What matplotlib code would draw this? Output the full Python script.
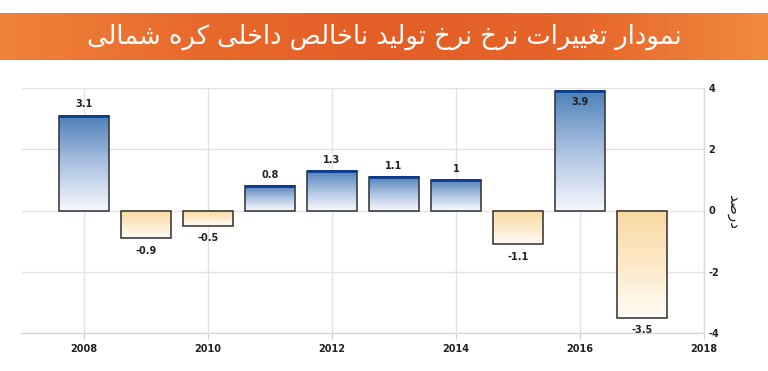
import numpy as np
import matplotlib
matplotlib.use("Agg")
import matplotlib.pyplot as plt
from matplotlib.colors import LinearSegmentedColormap
from matplotlib import font_manager, ft2font

plt.rcParams["axes.unicode_minus"] = False

# ---------------- data ----------------
years = [2008, 2009, 2010, 2011, 2012, 2013, 2014, 2015, 2016, 2017]
growth = [3.1, -0.9, -0.5, 0.8, 1.3, 1.1, 1.0, -1.1, 3.9, -3.5]
value_labels = ["3.1", "-0.9", "-0.5", "0.8", "1.3", "1.1", "1", "-1.1", "3.9", "-3.5"]
x_ticks = [2008, 2010, 2012, 2014, 2016, 2018]
y_ticks = [-4, -2, 0, 2, 4]
title_text = "نمودار تغییرات نرخ نرخ تولید ناخالص داخلی کره شمالی"
ylabel_text = "درصد"

# ---------------- minimal Arabic-script shaping ----------------
FORMS = {  # isolated, final, initial, medial
    "\u0627": (0xFE8D, 0xFE8E, None, None),
    "\u062A": (0xFE95, 0xFE96, 0xFE97, 0xFE98),
    "\u062E": (0xFEA5, 0xFEA6, 0xFEA7, 0xFEA8),
    "\u062F": (0xFEA9, 0xFEAA, None, None),
    "\u0631": (0xFEAD, 0xFEAE, None, None),
    "\u0634": (0xFEB5, 0xFEB6, 0xFEB7, 0xFEB8),
    "\u0635": (0xFEB9, 0xFEBA, 0xFEBB, 0xFEBC),
    "\u063A": (0xFECD, 0xFECE, 0xFECF, 0xFED0),
    "\u0644": (0xFEDD, 0xFEDE, 0xFEDF, 0xFEE0),
    "\u0645": (0xFEE1, 0xFEE2, 0xFEE3, 0xFEE4),
    "\u0646": (0xFEE5, 0xFEE6, 0xFEE7, 0xFEE8),
    "\u0647": (0xFEE9, 0xFEEA, 0xFEEB, 0xFEEC),
    "\u0648": (0xFEED, 0xFEEE, None, None),
    "\u06CC": (0xFBFC, 0xFBFD, 0xFBFE, 0xFBFF),
    "\u06A9": (0xFB8E, 0xFB8F, 0xFB90, 0xFB91),
}
FALLBACK = {
    "\u06CC": (0xFEEF, 0xFEF0, 0xFEF3, 0xFEF4),
    "\u06A9": (0xFED9, 0xFEDA, 0xFEDB, 0xFEDC),
}
try:
    _fp = font_manager.findfont(font_manager.FontProperties(family="DejaVu Sans"))
    _ft = ft2font.FT2Font(_fp)
    for k, fb in FALLBACK.items():
        if any(_ft.get_char_index(c) == 0 for c in FORMS[k]):
            FORMS[k] = fb
except Exception:
    pass


def dual(ch):
    return ch in FORMS and FORMS[ch][2] is not None


def shape(text):
    out = []
    n = len(text)
    for i, ch in enumerate(text):
        if ch not in FORMS:
            out.append(ch)
            continue
        prev_ = text[i - 1] if i > 0 else " "
        next_ = text[i + 1] if i < n - 1 else " "
        jp = dual(prev_)
        jn = dual(ch) and next_ in FORMS
        iso, fin, ini, med = FORMS[ch]
        if jp and jn:
            cp = med
        elif jp:
            cp = fin
        elif jn:
            cp = ini
        else:
            cp = iso
        out.append(chr(cp))
    return "".join(out)[::-1]


# ---------------- figure ----------------
W, H = 768, 371
fig = plt.figure(figsize=(W / 100, H / 100), dpi=100)
fig.patch.set_facecolor("white")

# title band
tax = fig.add_axes([0, 1 - 60 / H, 1, 47 / H])
band = LinearSegmentedColormap.from_list(
    "band", ["#f0823a", "#e86a2c", "#e35e25", "#e6652a", "#f08a3e"])
tax.imshow(np.linspace(0, 1, 256)[None, :], cmap=band, aspect="auto",
           extent=[0, 1, 0, 1])
tax.set_xlim(0, 1)
tax.set_ylim(0, 1)
tax.axis("off")
tax.text(0.5, 0.5, shape(title_text), color="white", fontsize=18.5,
         family="DejaVu Sans", ha="center", va="center")

# main axes
ax = fig.add_axes([22 / W, 1 - 333 / H, (704 - 22) / W, (333 - 88) / H])
ax.set_xlim(2007, 2018)
ax.set_ylim(-4, 4)

ax.set_xticks(x_ticks)
ax.set_yticks(y_ticks)
ax.grid(True, color="#e3e3e3", lw=1, zorder=0)
ax.set_axisbelow(True)
for s in ["top", "left"]:
    ax.spines[s].set_visible(False)
for s in ["right", "bottom"]:
    ax.spines[s].set_color("#d9d9d9")
    ax.spines[s].set_linewidth(1)

ax.yaxis.tick_right()
ax.tick_params(axis="y", length=0, pad=3, labelsize=7, labelcolor="#222222")
ax.tick_params(axis="x", length=4, color="#d0d0d0", pad=4, labelsize=7,
               labelcolor="#222222")
for lab in ax.get_xticklabels() + ax.get_yticklabels():
    lab.set_fontweight("bold")

blue = LinearSegmentedColormap.from_list("b", ["#f4f7fc", "#a9c1e0", "#4d7fb9"])
orange = LinearSegmentedColormap.from_list("o", ["#fffcf5", "#fce9c8", "#f9d9a2"])
grad = np.linspace(0, 1, 128)[:, None]

bars = ax.bar(years, growth, width=0.8, facecolor="none",
              edgecolor="#2e2e2e", lw=1.1, zorder=4)
for rect, v, lab in zip(bars, growth, value_labels):
    x0 = rect.get_x()
    x1 = x0 + rect.get_width()
    y0 = rect.get_y()
    y1 = y0 + rect.get_height()
    lo, hi = min(y0, y1), max(y0, y1)
    cmap = blue if v > 0 else orange
    ax.imshow(grad, cmap=cmap, aspect="auto", origin="lower",
              extent=[x0, x1, lo, hi], zorder=3, interpolation="bilinear")
    if v > 0:
        ax.plot([x0, x1], [hi, hi], color="#0b3d8c", lw=2, zorder=5,
                solid_capstyle="butt")
    xc = x0 + rect.get_width() / 2
    if v > 0:
        off = -8 if v > 3.6 else 8
        ax.annotate(lab, (xc, hi), xytext=(0, off), textcoords="offset points",
                    ha="center", va="center", fontsize=7, fontweight="bold",
                    color="#222222", zorder=6)
    else:
        ax.annotate(lab, (xc, lo), xytext=(0, -9), textcoords="offset points",
                    ha="center", va="center", fontsize=7, fontweight="bold",
                    color="#222222", zorder=6)

ax.set_xlim(2007, 2018)
ax.set_ylim(-4, 4)

fig.text(734 / W, 1 - 212 / H, shape(ylabel_text), rotation=-90, fontsize=11,
         family="DejaVu Sans", color="#222222", ha="center", va="center")

fig.savefig("out.png", dpi=100)
